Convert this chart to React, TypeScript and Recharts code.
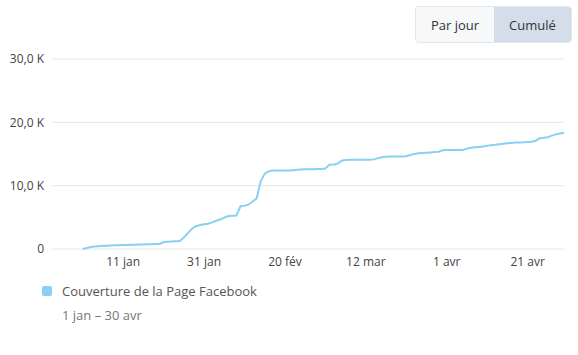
import { LineChart, Line, XAxis, YAxis, CartesianGrid } from "recharts"

// cumulative reach, one value per day from 1 jan (day 0) to 30 avr (day 119)
const reach = [
  0, 150, 300, 400, 450, 500, 520, 550, 580, 600,
  620, 640, 660, 680, 700, 720, 740, 760, 780, 800,
  1100, 1150, 1200, 1220, 1250, 1800, 2500, 3200, 3600, 3800,
  3900, 4000, 4200, 4450, 4650, 4950, 5200, 5250, 5300, 6750,
  6850, 7000, 7500, 8000, 10700, 11900, 12300, 12400, 12400, 12400,
  12400, 12400, 12450, 12500, 12550, 12600, 12600, 12600, 12620, 12650,
  12700, 13300, 13350, 13450, 13950, 14050, 14100, 14100, 14100, 14100,
  14100, 14100, 14150, 14350, 14500, 14550, 14600, 14600, 14600, 14600,
  14650, 14850, 15000, 15100, 15150, 15200, 15250, 15300, 15350, 15600,
  15620, 15620, 15630, 15640, 15650, 15850, 16000, 16050, 16120, 16200,
  16300, 16400, 16450, 16550, 16620, 16700, 16750, 16800, 16820, 16850,
  16900, 16950, 17100, 17500, 17550, 17650, 17900, 18100, 18250, 18350,
]

const tickDays = [10, 30, 50, 70, 90, 110]
const tickLabels = ["11 jan", "31 jan", "20 fév", "12 mar", "1 avr", "21 avr"]
const yTicks = [0, 10000, 20000, 30000]

const seriesName = "Couverture de la Page Facebook"
const period = "1 jan – 30 avr"

const data = reach.map((value, day) => ({ day, value }))

const font = "'Open Sans', sans-serif"
const blue = "#88d0f4"

const formatY = (v: number) => (v === 0 ? "0" : `${(v / 1000).toFixed(1).replace(".", ",")} K`)

export default function App() {
  return (
    <div style={{ position: "absolute", left: 0, top: 0, width: 578, height: 355, background: "#fff", fontFamily: font }}>
      <div
        style={{
          position: "absolute",
          left: 415,
          top: 6,
          width: 157,
          height: 37,
          display: "flex",
          border: "1px solid #e3e7ec",
          borderRadius: 4,
          overflow: "hidden",
          boxSizing: "border-box",
          fontSize: 13,
          color: "#333",
        }}
      >
        <div style={{ width: 78, background: "#f6f8fa", display: "flex", alignItems: "center", justifyContent: "center" }}>
          Par jour
        </div>
        <div style={{ flex: 1, background: "#d3deea", display: "flex", alignItems: "center", justifyContent: "center" }}>
          Cumulé
        </div>
      </div>

      <div style={{ position: "absolute", left: 0, top: 0 }}>
        <LineChart width={578} height={290} data={data} margin={{ top: 59, right: 14, left: 0, bottom: 11 }}>
          <CartesianGrid horizontal vertical={false} stroke="#e6e6e6" />
          <XAxis
            dataKey="day"
            type="number"
            domain={[-7.6, 119]}
            ticks={tickDays}
            tickFormatter={(d: number) => tickLabels[tickDays.indexOf(d)]}
            axisLine={false}
            tickLine={false}
            height={30}
            tick={{ fontSize: 12, fill: "#444", fontFamily: font }}
          />
          <YAxis
            domain={[0, 30000]}
            ticks={yTicks}
            tickFormatter={formatY}
            axisLine={false}
            tickLine={false}
            width={52}
            tick={{ fontSize: 12, fill: "#444", fontFamily: font }}
          />
          <Line
            type="linear"
            dataKey="value"
            stroke={blue}
            strokeWidth={2}
            dot={false}
            isAnimationActive={false}
          />
        </LineChart>
      </div>

      <div style={{ position: "absolute", left: 42, top: 286, width: 10, height: 10, background: blue, borderRadius: 2 }} />
      <div style={{ position: "absolute", left: 62, top: 282, fontSize: 13, color: "#555", lineHeight: "18px" }}>{seriesName}</div>
      <div style={{ position: "absolute", left: 62, top: 306, fontSize: 13, color: "#777", lineHeight: "18px" }}>{period}</div>
    </div>
  )
}
